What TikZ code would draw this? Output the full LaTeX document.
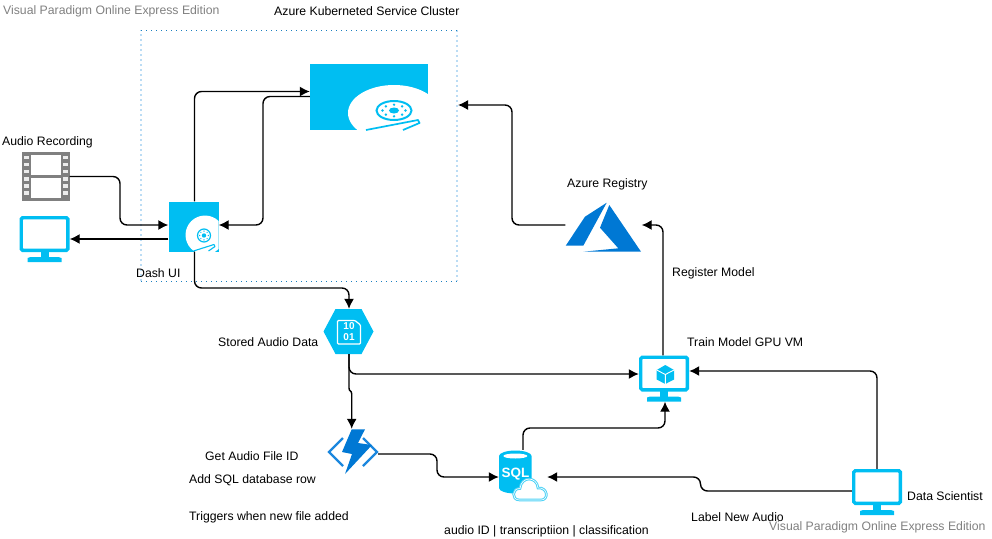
\documentclass[tikz,border=0pt]{standalone}
\usepackage{fontspec}
\setmainfont{Liberation Sans}
\usetikzlibrary{arrows.meta}
\definecolor{skyblue}{HTML}{00BEF2}
\definecolor{azureblue}{HTML}{0078D4}
\definecolor{boltside}{HTML}{1B87DE}
\definecolor{filmgray}{HTML}{808080}
\definecolor{framedark}{HTML}{1A7FC0}
\definecolor{framelight}{HTML}{BBDCF4}
\tikzset{
    label/.style={anchor=west,inner sep=0pt,font=\fontsize{12.25}{14}\selectfont,text=black},
    mark text/.style={label,text=filmgray},
    link/.style={line width=1.4pt,rounded corners=7pt,-{Latex[length=10pt,width=10pt]}},
}
% monitor icon: name, x, y
\newcommand{\screenicon}[3]{
    \node[inner sep=0pt,minimum width=50pt,minimum height=46pt] at (#2,#3) (#1) {};
    \draw[skyblue,line width=3.4pt,rounded corners=1.5pt] (#2-23.3,#3-21.3) rectangle (#2+23.3,#3+11.3);
    \fill[skyblue] (#2-4,#3+12) rectangle (#2+4,#3+19);
    \fill[skyblue] (#2-17,#3+19) -- (#2-14,#3+18) -- (#2+14,#3+18) -- (#2+17,#3+19) -- (#2+17,#3+23) -- (#2-17,#3+23) -- cycle;
}
\begin{document}
\begin{tikzpicture}[x=1pt,y=-1pt]
    \useasboundingbox (0,0) rectangle (992,538);
    % cluster frame
    \draw[framelight,line width=2pt,dash pattern=on 2pt off 3pt] (141,281) -- (141,30);
    \draw[framelight,line width=2pt,dash pattern=on 2pt off 3pt] (457,30) -- (457,281);
    \draw[framedark,line width=1pt,dash pattern=on 1pt off 4pt] (141,30.5) -- (457,30.5);
    \draw[framedark,line width=1pt,dash pattern=on 1pt off 4pt] (141,281.5) -- (457,281.5);
    % recording
    \node[inner sep=0pt,minimum width=48pt,minimum height=49pt] at (45.5,176.5) (recording) {};
    \fill[filmgray] (21.5,152) rectangle (69.5,201);
    \fill[white] (30.5,155) rectangle (60.5,175);
    \fill[white] (30.5,178) rectangle (60.5,198);
    \foreach \hy in {157.5,164.5,171.5,179,186,193}{
        \fill[white!85!filmgray] (23.5,\hy-1.8) rectangle (28.5,\hy+1.8);
        \fill[white!85!filmgray] (63,\hy-1.8) rectangle (68,\hy+1.8);
    }
    \screenicon{viewer}{44.5}{239}
    % dash
    \node[fill=skyblue,inner sep=0pt,minimum width=50pt,minimum height=50pt] at (193.5,226.5) (dashui) {};
    \begin{scope}
        \clip (168.5,201.5) rectangle (218.5,251.5);
        \fill[white] (205,235) circle (19.5);
    \end{scope}
    \draw[skyblue,line width=1.2pt] (204,235.5) circle (6.5);
    \fill[skyblue] (204,235.5) circle (2.2);
    \foreach \ang in {0,45,...,315}{
        \fill[skyblue] (204,235.5) ++(\ang:4.4) circle (0.7);
    }
    \draw[skyblue,line width=1.1pt,line join=round] (193.5,251) -- (214,244.5) -- (215,246.5) -- (208.5,251);
    % kubernetes cluster
    \node[fill=skyblue,inner sep=0pt,minimum width=118pt,minimum height=66pt] at (369,97) (kube) {};
    \begin{scope}
        \clip (310,64) rectangle (428,130);
        \fill[white] (394,113) ellipse (46 and 28);
    \end{scope}
    \draw[skyblue,line width=2pt] (394,110.5) ellipse (17.5 and 9.5);
    \fill[skyblue] (394,110.5) ellipse (5 and 3);
    \foreach \ang in {0,45,...,315}{
        \fill[skyblue] (394,110.5) ++(\ang:11.5 and 5.8) circle (1.3);
    }
    \draw[skyblue,line width=1.7pt,line join=round] (366,130) -- (418,120) -- (419.5,123) -- (403,130);
    % registry
    \node[inner sep=0pt,minimum width=76pt,minimum height=50pt] at (603.5,226.5) (registry) {};
    \fill[azureblue] (606.7,202.7) -- (585,216.7) -- (565.7,245.7) -- (583.3,245.7) -- cycle;
    \fill[azureblue] (609.3,205) -- (600,227.7) -- (618.3,248.3) -- (583.3,251.7) -- (641,251.7) -- cycle;
    % storage
    \node[inner sep=0pt,minimum width=50pt,minimum height=45pt] at (348.5,331.5) (storage) {};
    \fill[skyblue] (323.5,331.5) -- (335.5,309) -- (361.5,309) -- (373.5,331.5) -- (361.5,354) -- (335.5,354) -- cycle;
    \draw[white,line width=1.2pt,rounded corners=1pt] (337.5,320.5) -- (355,320.5) -- (360.5,325) -- (360.5,344) -- (337.5,344) -- cycle;
    \node[inner sep=0pt,text=white,font=\fontsize{10}{10}\selectfont\bfseries] at (349,326.5) (bits1) {10};
    \node[inner sep=0pt,text=white,font=\fontsize{10}{10}\selectfont\bfseries] at (349,337) (bits2) {01};
    % function
    \node[inner sep=0pt,minimum width=50pt,minimum height=45pt] at (353,451.5) (trigger) {};
    \draw[boltside,line width=2.2pt] (343,438) -- (329,452) -- (343,466);
    \draw[boltside,line width=2.2pt] (363,438) -- (377,452) -- (363,466);
    \fill[azureblue] (351.7,429.3) -- (365,429.3) -- (358,443) -- (372,445) -- (345,474) -- (352,454) -- (342,452) -- cycle;
    % sql
    \node[inner sep=0pt,minimum width=48pt,minimum height=51pt] at (523,475.5) (sqldb) {};
    \fill[skyblue] (499,456) arc (180:360:16.3 and 5.5) -- (531.6,488) arc (0:180:16.3 and 5.5) -- cycle;
    \fill[white] (515.3,456) ellipse (12 and 2.5);
    \node[inner sep=0pt,text=white,font=\fontsize{13.5}{14}\selectfont\bfseries] at (515.5,474) (sqltext) {SQL};
    \draw[skyblue!70,fill=white,line width=1pt,double=white] (519.5,500) .. controls (511,500) and (512,488) .. (520,488.5) .. controls (521,476) and (537,476) .. (538,488) .. controls (548,487) and (549,500) .. (541,500) -- cycle;
    % train vm
    \screenicon{trainvm}{664}{378.5}
    \fill[skyblue] (665.3,365) -- (674,370) -- (674,379.5) -- (665.3,384) -- (656.7,379.5) -- (656.7,370) -- cycle;
    \draw[white,line width=0.9pt] (656.7,370) -- (665.3,374.5) -- (674,370) (665.3,374.5) -- (665.3,384);
    % scientist
    \screenicon{scientist}{877}{492}
    % connectors
    \draw[link] (recording.east) -- (120,176.5) -- (120,225) -- ([yshift=1.5pt]dashui.west);
    \draw[link] ([yshift=-12.5pt]dashui.west) -- (viewer.east);
    \draw[link] ([xshift=1pt]dashui.north) -- (194.5,91.5) -- ([yshift=5.5pt]kube.west);
    \draw[link] ([yshift=0.5pt]kube.west) -- (263,96.5) -- (263,225) -- ([yshift=1.5pt]dashui.east);
    \draw[link] ([xshift=1pt]dashui.south) -- (194.5,288) -- (349,288) -- ([xshift=0.5pt]storage.north);
    \draw[link] ([xshift=0.5pt]storage.south) -- (349,374) -- (640,374) -- ([yshift=4.5pt]trainvm.west);
    \draw[line width=1.4pt,-{Latex[length=10pt,width=10pt]}] ([xshift=0.5pt]storage.south) -- (349,388) .. controls (349,392) and (351.7,390) .. (351.7,394) -- ([xshift=-1.3pt]trigger.north);
    \draw[link] ([yshift=-2.5pt]trigger.east) -- (437,454) -- (437,477) -- ([yshift=-1.5pt]sqldb.west);
    \draw[link] (sqldb.north) -- (523,428) -- (665,428) -- ([xshift=1pt]trainvm.south);
    \draw[link] ([yshift=1pt]scientist.west) -- (700.5,491) -- (700.5,477) -- ([yshift=-1.5pt]sqldb.east);
    \draw[link] (scientist.north) -- (877,371) -- ([yshift=7.5pt]trainvm.east);
    \draw[link] ([xshift=-1pt]trainvm.north) -- (663,225) -- ([yshift=1.5pt]registry.east);
    \draw[link] ([yshift=1.5pt]registry.west) -- (512,225) -- (512,105) -- (458,105);
    % labels
    \node[mark text] at (3,11) (mark1) {Visual Paradigm Online Express Edition};
    \node[label] at (274,11) (clustername) {Azure Kuberneted Service Cluster};
    \node[label] at (2,142) (recordingname) {Audio Recording};
    \node[label] at (136,273) (dashname) {Dash UI};
    \node[label] at (218,342) (storagename) {Stored Audio Data};
    \node[label] at (567,184) (registryname) {Azure Registry};
    \node[label] at (672,273) (registername) {Register Model};
    \node[label] at (687,342) (vmname) {Train Model GPU VM};
    \node[label] at (205,456) (trigger1) {Get Audio File ID};
    \node[label] at (189,480) (trigger2) {Add SQL database row};
    \node[label] at (189,517) (trigger3) {Triggers when new file added};
    \node[label] at (444,531) (sqlname) {audio ID | transcriptiion | classification};
    \node[label] at (691,517) (labelname) {Label New Audio};
    \node[label] at (907,496) (scientistname) {Data Scientist};
    \node[mark text] at (769,527) (mark2) {Visual Paradigm Online Express Edition};
\end{tikzpicture}
\end{document}
